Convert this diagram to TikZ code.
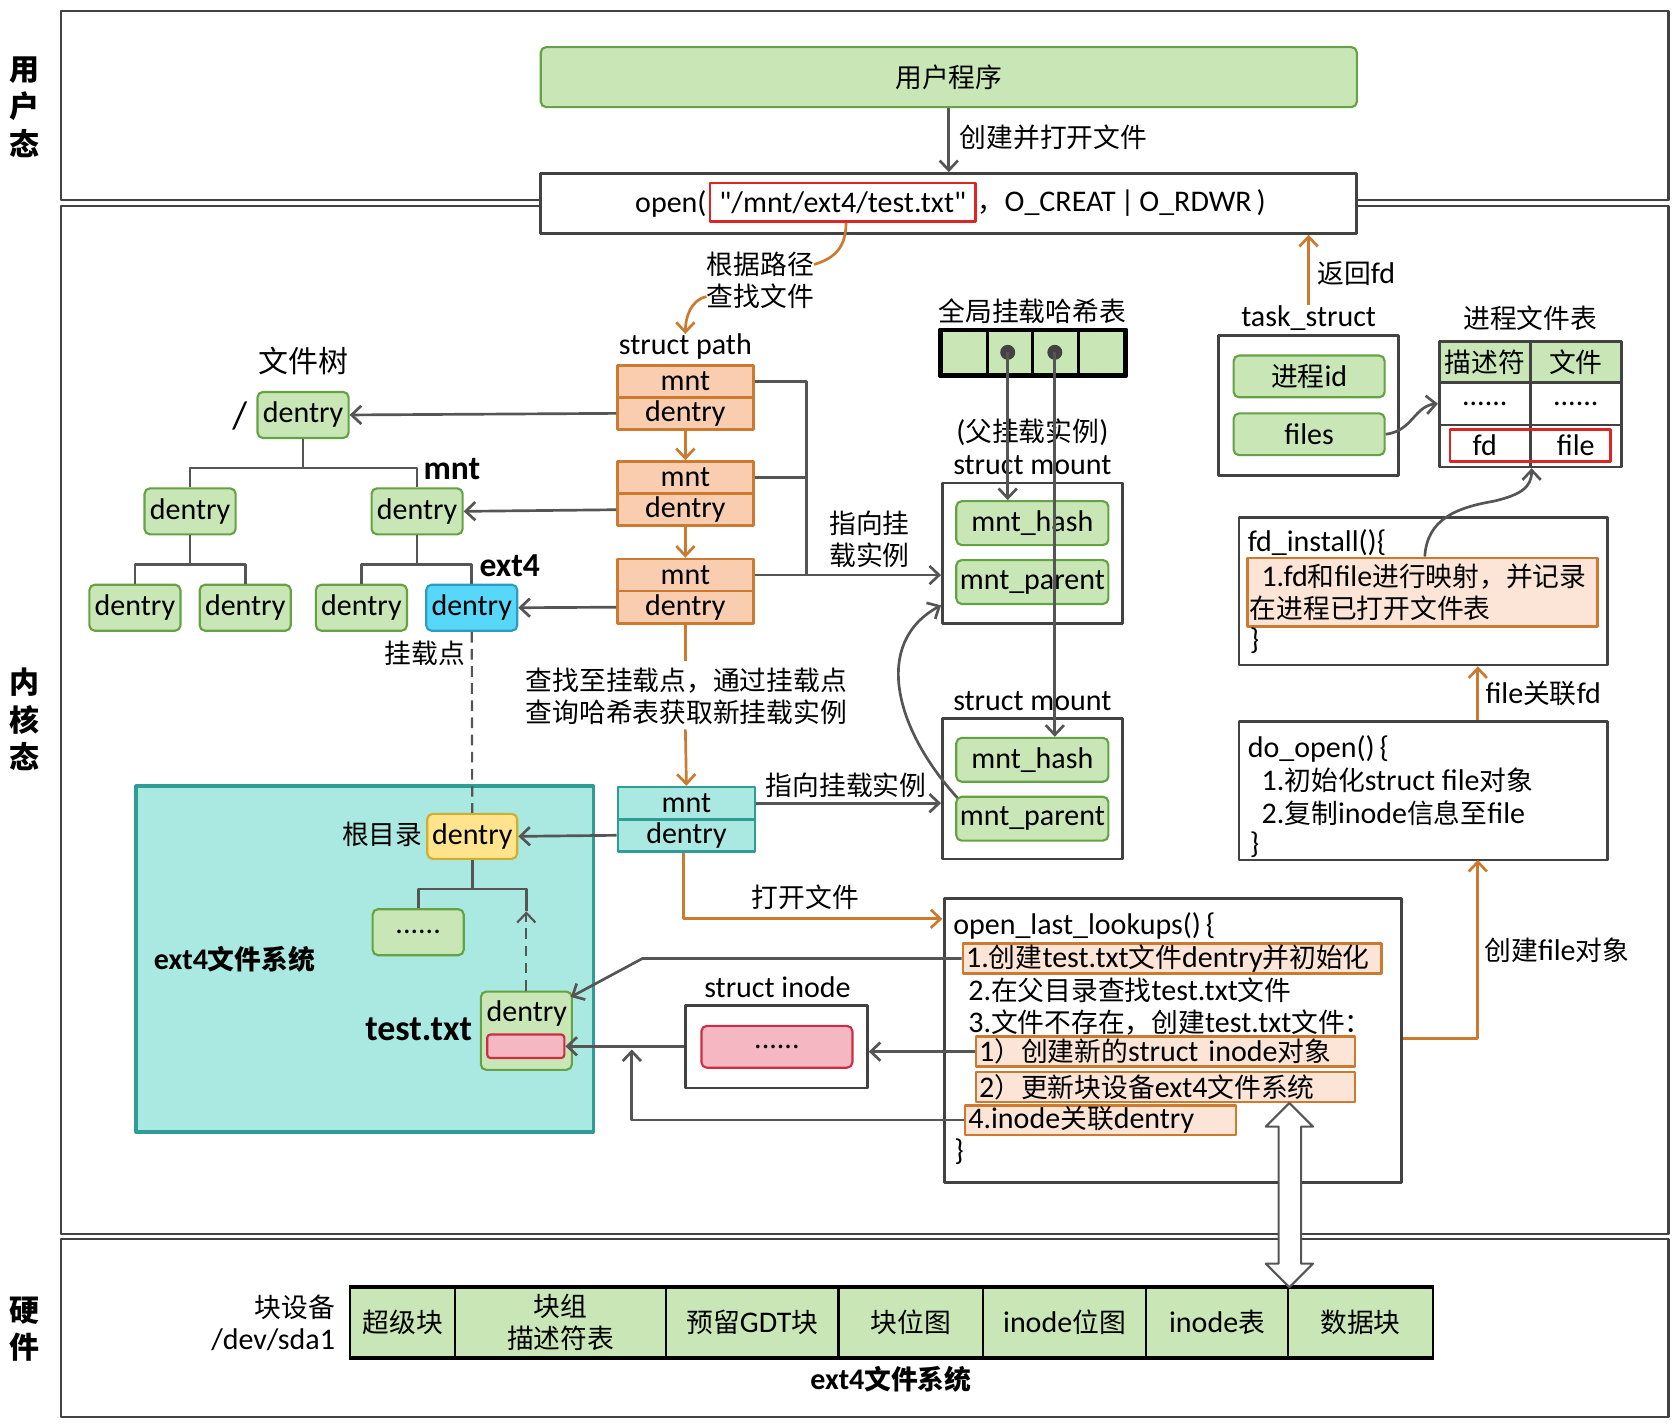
\documentclass[tikz,border=0pt]{standalone}
\usepackage{fontspec}
\setmainfont{Carlito}[Scale=1.12]
\newfontfamily\rawlatin{Carlito}[Scale=1.12]
\newfontfamily\cjkfont{Noto Sans CJK SC}
\XeTeXinterchartokenstate=1
\newXeTeXintercharclass\CJKcls
\newcount\cjkc
\def\setcjkrange#1#2{\cjkc=#1\relax\loop\XeTeXcharclass\cjkc=\CJKcls\advance\cjkc by 1\relax\ifnum\cjkc<#2\repeat}
\setcjkrange{"4E00}{"A000}
\setcjkrange{"3000}{"3040}
\setcjkrange{"FF00}{"FFF0}
\XeTeXinterchartoks 0 \CJKcls={\cjkfont}
\XeTeXinterchartoks 4095 \CJKcls={\cjkfont}
\XeTeXinterchartoks \CJKcls 0={\rmfamily}
\XeTeXinterchartoks \CJKcls 4095={\rmfamily}
\usetikzlibrary{arrows.meta}
\newcommand\fz[2]{\fontsize{#1pt}{#2pt}\selectfont}
\definecolor{cg}{HTML}{C9E7B6}
\definecolor{cgl}{HTML}{64A243}
\definecolor{cp}{HTML}{F9CDAF}
\definecolor{co}{HTML}{CB7A30}
\definecolor{cl}{HTML}{FCE5D6}
\definecolor{ct}{HTML}{AAE9E1}
\definecolor{ctl}{HTML}{2F9C95}
\definecolor{cb}{HTML}{57D8FA}
\definecolor{cbl}{HTML}{2E9CC0}
\definecolor{cy}{HTML}{FFE48D}
\definecolor{cyl}{HTML}{CFAE2E}
\definecolor{cpk}{HTML}{F5B8C2}
\definecolor{cpkl}{HTML}{CC2D45}
\definecolor{cr}{HTML}{E02424}
\definecolor{cgr}{HTML}{555555}
\definecolor{cf}{HTML}{424242}
\begin{document}
\begin{tikzpicture}[x=1pt,y=-1pt,line join=round,
  every node/.style={font=\fz{25}{30}, inner sep=0pt, text=black},
  frm/.style={draw=cf, line width=2pt},
  gbox/.style={draw=cgl, fill=cg, rounded corners=5pt, line width=2pt},
  pbox/.style={draw=co, fill=cp, line width=2.5pt, minimum width=127pt, minimum height=30pt},
  tbox/.style={draw=ctl, fill=ct, line width=2.5pt, minimum width=128pt, minimum height=30pt},
  lbox/.style={draw=co, fill=cl, line width=2.5pt, anchor=west, align=left, inner xsep=3pt, minimum height=28pt},
  wbox/.style={draw=cf, fill=white, line width=2.5pt},
  conn/.style={draw=cgr, line width=2.5pt},
  arr/.style={conn, -{Straight Barb[length=9pt,width=17pt]}},
  ocon/.style={draw=co, line width=2.5pt},
  oarr/.style={ocon, -{Straight Barb[length=9pt,width=17pt]}},
  dentrybox/.style={gbox, minimum width=85pt, minimum height=43pt},
  bold/.style={font=\fz{28}{32}\bfseries},
]
\useasboundingbox[fill=white] (0,0) rectangle (1566,1330);

% ---------- frames ----------
\node[frm, minimum width=1501pt, minimum height=177pt] (fu) at (807.5,98.5) {};
\node[frm, minimum width=1501pt, minimum height=960pt] (fk) at (807.5,672) {};
\node[frm, minimum width=1501pt, minimum height=166pt] (fh) at (807.5,1240) {};
\node[font=\fz{28}{35}\bfseries, align=center] (lu) at (23,100) {用\\户\\态};
\node[font=\fz{28}{35}\bfseries, align=center] (lk) at (23,672) {内\\核\\态};
\node[font=\fz{28}{34}\bfseries, align=center] (lh) at (23,1241) {硬\\件};

% ---------- user space ----------
\node[gbox, minimum width=762pt, minimum height=56pt] (prog) at (886,72) {用户程序};
\node[wbox, minimum width=762pt, minimum height=56pt] (open) at (886,190) {};
\draw[arr] (prog.south) -- (open.north);
\node[anchor=west] (lcreate) at (896,128) {创建并打开文件};
\node[anchor=east] (topen) at (660,190) {open(};
\node[draw=cr, line width=2.5pt, minimum width=248pt, minimum height=36pt, font=\fz{25}{30}\rawlatin] (rb) at (787,189) {"/mnt/ext4/test.txt"};
\node[anchor=west] (tflags) at (913,190) {，O\_CREAT\,|\,O\_RDWR\,)};

% ---------- path lookup ----------
\node (lpath1) at (710,247) {根据路径};
\node (lpath2) at (710,277) {查找文件};
\node (spath) at (640,324) {struct path};
\draw[ocon] ([xshift=3pt]rb.south) .. controls +(0,22) and +(20,-6) .. (lpath1.east);
\draw[oarr] (lpath2.west) .. controls +(-15,3) and +(0,-15) .. (spath.north);

\node[pbox] (p1m) at (640,356) {mnt};
\node[pbox] (p1d) at (640,386) {dentry};
\node[pbox] (p2m) at (640,446) {mnt};
\node[pbox] (p2d) at (640,476) {dentry};
\node[pbox] (p3m) at (640,537) {mnt};
\node[pbox] (p3d) at (640,567) {dentry};
\draw[oarr] (p1d.south) -- (p2m.north);
\draw[oarr] (p2d.south) -- (p3m.north);

% ---------- file tree ----------
\node[font=\fz{28}{32}] (ltree) at (283,337) {文件树};
\node[font=\fz{32}{36}] (lslash) at (224,388) {/};
\node[dentrybox] (d0) at (283,387.5) {dentry};
\node[dentrybox] (d1) at (177.5,477.5) {dentry};
\node[dentrybox] (dm) at (389.5,477.5) {dentry};
\node[dentrybox] (d3a) at (126,567.5) {dentry};
\node[dentrybox] (d3b) at (229,567.5) {dentry};
\node[dentrybox] (d3c) at (337.5,567.5) {dentry};
\node[dentrybox, draw=cbl, fill=cb] (dblue) at (440.5,567.5) {dentry};
\coordinate (j0) at (283,437);
\coordinate (j1) at (177.5,527);
\coordinate (j2) at (389.5,527);
\draw[conn] (d0.south) -- (j0);
\draw[conn] (d1.north) |- (j0) -| (dm.north);
\draw[conn] (d1.south) -- (j1);
\draw[conn] (d3a.north) |- (j1) -| (d3b.north);
\draw[conn] (dm.south) -- (j2);
\draw[conn] (d3c.north) |- (j2) -| (dblue.north);
\node[bold] (lmnt) at (422,438) {mnt};
\node[bold] (lext4) at (476,528) {ext4};
\node (lmp) at (397,610) {挂载点};

\draw[arr] (p1d.west) -- (d0.east);
\draw[arr] (p2d.west) -- (dm.east);
\draw[arr] (p3d.west) -- (dblue.east);

% ---------- ext4 region ----------
\node[draw=ctl, fill=ct, line width=3pt, minimum width=427pt, minimum height=323pt] (ext4r) at (340.5,895.5) {};
\node[gbox, draw=cyl, fill=cy, minimum width=84pt, minimum height=42pt] (rootd) at (441,781) {dentry};
\node (lroot) at (357,779) {根目录};
\draw[conn, line width=2pt, dash pattern=on 10pt off 6pt] (dblue.south) -- (rootd.north);
\node[dentrybox] (dots) at (390.5,870.5) {......};
\coordinate (jr) at (441,830);
\coordinate (ja) at (491.5,851);
\draw[conn] (rootd.south) -- (jr);
\draw[conn] (dots.north) |- (jr) -| (ja);
\node[font=\fz{25}{28}\bfseries] (lext4fs) at (219,896) {ext4文件系统};
\node[font=\fz{30}{34}\bfseries] (ltest) at (391,961) {test.txt};
\node[gbox, minimum width=85pt, minimum height=73pt] (td) at (491.5,962.5) {};
\node (tdtext) at (492,946) {dentry};
\node[draw=cpkl, fill=cpk, rounded corners=3pt, line width=2pt, minimum width=72pt, minimum height=22pt] (tdp) at (491,977) {};
\draw[conn, line width=2pt, dash pattern=on 10pt off 6pt, -{Straight Barb[length=9pt,width=17pt]}] (td.north) -- (ja);

% ---------- mount lookup ----------
\draw[ocon] (p3d.south) -- (640,617);
\node[align=center] (lfind) at (641,650) {查找至挂载点，通过挂载点\\查询哈希表获取新挂载实例};
\node[tbox] (p4m) at (641,750) {mnt};
\node[tbox] (p4d) at (641,780) {dentry};
\draw[oarr] (640,681) -- (p4m.north);
\draw[arr] (p4d.west) -- (rootd.east);

% ---------- hash table & mounts ----------
\node (lhash) at (964,291) {全局挂载哈希表};
\node[draw=black, fill=cg, line width=2.5pt, minimum width=43pt, minimum height=41pt] (h1) at (900.5,329.5) {};
\node[draw=black, fill=cg, line width=2.5pt, minimum width=42pt, minimum height=41pt] (h2) at (943,329.5) {};
\node[draw=black, fill=cg, line width=2.5pt, minimum width=43pt, minimum height=41pt] (h3) at (985.5,329.5) {};
\node[draw=black, fill=cg, line width=2.5pt, minimum width=43pt, minimum height=41pt] (h4) at (1028.5,329.5) {};
\draw[black, line width=3.5pt] (h1.north west) rectangle (h4.south east);

\node (lpar) at (964,404) {(父挂载实例)};
\node (lsm1) at (964,434) {struct mount};
\node[wbox, minimum width=168pt, minimum height=131pt] (m1) at (964,516.5) {};
\node[gbox, minimum width=142pt, minimum height=41pt] (m1h) at (964,488.5) {mnt\_hash};
\node[gbox, minimum width=142pt, minimum height=41pt] (m1p) at (964,543.5) {mnt\_parent};
\node (lsm2) at (964,655) {struct mount};
\node[wbox, minimum width=168pt, minimum height=131pt] (m2) at (964,736.5) {};
\node[gbox, minimum width=142pt, minimum height=41pt] (m2h) at (964,709.5) {mnt\_hash};
\node[gbox, minimum width=142pt, minimum height=41pt] (m2p) at (964,764.5) {mnt\_parent};

\fill[cf] (941,329) circle (7pt) coordinate (hd1);
\fill[cf] (985,329) circle (7pt) coordinate (hd2);
\draw[arr] (hd1) -- (hd1 |- m1h.north);
\draw[arr] (hd2) -- (hd2 |- m2h.north);
\draw[arr] ([xshift=2pt,yshift=-2pt]m2p.north west) .. controls (835,680) and (815,600) .. ([yshift=18pt]m1.south west);

\draw[conn] (p1m.east) -| (753,537);
\draw[conn] (p2m.east) -- (753,446);
\draw[arr] (p3m.east) -- (p3m.east -| m1.west);
\node[align=center] (lpoint) at (812,504) {指向挂\\载实例};
\draw[arr] (p4m.east) -- (p4m.east -| m2.west);
\node (lpoint2) at (790,733) {指向挂载实例};

% ---------- open_last_lookups ----------
\node[wbox, minimum width=427pt, minimum height=265pt] (oll) at (1095.5,971.5) {};
\node[anchor=west] (o0) at (890,865) {open\_last\_lookups()\,\{};
\node[lbox, text width=385pt] (o1) at (898,895) {1.创建test.txt文件dentry并初始化};
\node[anchor=west] (o2) at (904,925) {2.在父目录查找test.txt文件};
\node[anchor=west] (o3) at (904,955) {3.文件不存在，创建test.txt文件：};
\node[lbox, text width=348pt] (o4) at (910,982) {1）创建新的struct inode对象};
\node[lbox, text width=348pt] (o5) at (910,1015) {2）更新块设备ext4文件系统};
\node[lbox, text width=247pt] (o6) at (900,1046) {4.inode关联dentry};
\node[anchor=west] (o7) at (891,1075) {\}};

\coordinate (oo) at (880,858);
\draw[oarr] ([xshift=-3pt]p4d.south) |- (oo);
\node (lopenf) at (752,838) {打开文件};

\node (lsi) at (726,922) {struct inode};
\node[wbox, minimum width=170pt, minimum height=77pt] (inode) at (725,977.5) {};
\node[draw=cpkl, fill=cpk, rounded corners=5pt, line width=2pt, minimum width=141pt, minimum height=39pt] (inodep) at (725.5,977.5) {......};

\coordinate (c1) at (600,895);
\coordinate (c2) at (533,931);
\draw[arr] (o1.west) -- (c1) -- (c2);
\draw[arr] (o4.west) -- (o4.west -| inode.east);
\draw[arr] (inode.west |- tdp.east) -- (tdp.east);
\coordinate (c3) at (590,1046);
\coordinate (c4) at (590,980);
\draw[arr] (o6.west) -- (c3) -- (c4);

% ---------- task_struct ----------
\node (lts) at (1222,297) {task\_struct};
\draw[oarr] (lts.north) -- (lts.north |- open.south);
\node[anchor=west] (lfd) at (1230,255) {返回fd};
\node[wbox, minimum width=168pt, minimum height=131pt] (ts) at (1222,378.5) {};
\node[gbox, minimum width=141pt, minimum height=39pt] (pid) at (1222.5,351.5) {进程id};
\node[gbox, minimum width=141pt, minimum height=39pt] (files) at (1222.5,405.5) {files};

\node (lpft) at (1429,297) {进程文件表};
\node[draw=cf, fill=cg, line width=2.5pt, minimum width=85pt, minimum height=38pt] (t11) at (1386.5,338) {描述符};
\node[draw=cf, fill=cg, line width=2.5pt, minimum width=85pt, minimum height=38pt] (t12) at (1471.5,338) {文件};
\node[draw=cf, fill=white, line width=2.5pt, minimum width=85pt, minimum height=40pt] (t21) at (1386.5,377) {......};
\node[draw=cf, fill=white, line width=2.5pt, minimum width=85pt, minimum height=40pt] (t22) at (1471.5,377) {......};
\node[draw=cf, fill=white, line width=2.5pt, minimum width=85pt, minimum height=39pt] (t31) at (1386.5,416.5) {};
\node[draw=cf, fill=white, line width=2.5pt, minimum width=85pt, minimum height=39pt] (t32) at (1471.5,416.5) {};
\node[draw=cr, line width=2.5pt, minimum width=150pt, minimum height=30pt] (fdr) at (1429,416) {};
\node (tfd) at (1386.5,416) {fd};
\node (tfile) at (1471.5,416) {file};
\draw[arr] (files.east) .. controls +(25,-3) and +(-22,2) .. (t21.west);

% ---------- fd_install / do_open ----------
\node[wbox, minimum width=344pt, minimum height=138pt] (fdi) at (1329,552) {};
\node[anchor=west] (fdi0) at (1165,507) {fd\_install()\{};
\node[draw=co, fill=cl, line width=2.5pt, minimum width=327pt, minimum height=64pt, text width=323pt, align=left, font=\fz{25}{30}] (fdi1) at (1328.5,553) {\hspace*{11pt}1.fd和file进行映射，并记录\\在进程已打开文件表};
\node[anchor=west] (fdi2) at (1167,598) {\}};
\draw[arr] ([xshift=2pt]fdi1.north) .. controls +(2,-35) and +(-35,6) .. (1395,468) .. controls +(25,-6) and +(0,18) .. (t31.south east);

\node[wbox, minimum width=344pt, minimum height=129pt] (dop) at (1329,738.5) {};
\node[anchor=west] (dop0) at (1165,699) {do\_open()\,\{};
\node[anchor=west] (dop1) at (1178,729) {1.初始化struct file对象};
\node[anchor=west] (dop2) at (1178,759) {2.复制inode信息至file};
\node[anchor=west] (dop3) at (1167,789) {\}};
\coordinate (cd) at (1380,803);
\draw[oarr] (cd |- dop.north) -- (cd |- fdi.south);
\node[anchor=west] (lfa) at (1387,648) {file关联fd};
\coordinate (ce) at (1380,970);
\draw[oarr] (oll.east |- ce) -- (ce) -- (cd);
\node[anchor=west] (lcf) at (1386,887) {创建file对象};

% ---------- hardware ----------
\node[anchor=east] (lbd1) at (313,1221) {块设备};
\node[anchor=east] (lbd2) at (313,1251) {/dev/sda1};
\node[draw=black, fill=cg, line width=2pt, minimum width=98pt, minimum height=64pt] (hw1) at (376,1235) {超级块};
\node[draw=black, fill=cg, line width=2pt, minimum width=197pt, minimum height=64pt, align=center] (hw2) at (523.5,1235) {块组\\描述符表};
\node[draw=black, fill=cg, line width=2pt, minimum width=161pt, minimum height=64pt] (hw3) at (702.5,1235) {预留GDT块};
\node[draw=black, fill=cg, line width=2pt, minimum width=135pt, minimum height=64pt] (hw4) at (850.5,1235) {块位图};
\node[draw=black, fill=cg, line width=2pt, minimum width=152pt, minimum height=64pt] (hw5) at (994,1235) {inode位图};
\node[draw=black, fill=cg, line width=2pt, minimum width=133pt, minimum height=64pt] (hw6) at (1136.5,1235) {inode表};
\node[draw=black, fill=cg, line width=2pt, minimum width=135pt, minimum height=64pt] (hw7) at (1270.5,1235) {数据块};
\draw[black, line width=4pt] (hw1.north west) -- (hw7.north east);
\draw[black, line width=4pt] (hw1.south west) -- (hw7.south east);
\node[font=\fz{25}{28}\bfseries] (lext4hw) at (832,1288) {ext4文件系统};

% ---------- hollow double arrow ----------
\draw[draw=cgr, fill=white, line width=2pt]
  (1204,1030) -- (1226,1052) -- (1215,1052) -- (1215,1180) -- (1226,1180) -- (1204,1202)
  -- (1182,1180) -- (1194,1180) -- (1194,1052) -- (1182,1052) -- cycle;
\end{tikzpicture}
\end{document}
